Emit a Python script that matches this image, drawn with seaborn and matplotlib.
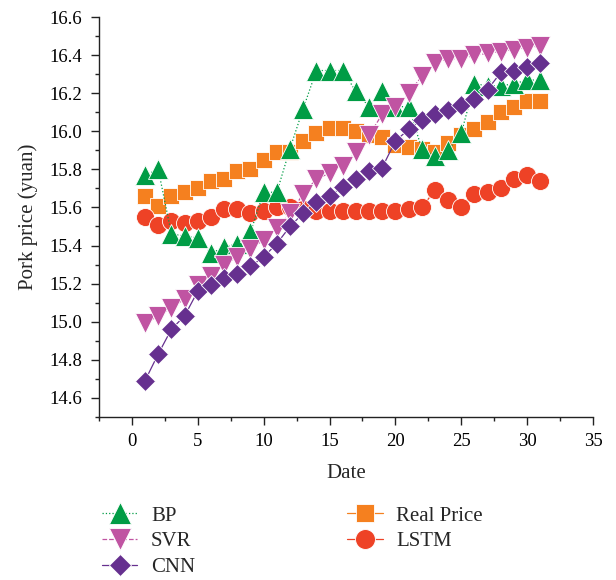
import matplotlib
matplotlib.use("Agg")
import matplotlib.pyplot as plt
from matplotlib.ticker import MultipleLocator, FormatStrFormatter
import pandas as pd
import seaborn as sns

days = list(range(1, 32))

real_price = [15.66, 15.61, 15.66, 15.68, 15.70, 15.74, 15.75, 15.79, 15.80, 15.85,
              15.89, 15.89, 15.95, 15.99, 16.02, 16.02, 16.00, 15.98, 15.97, 15.93,
              15.92, 15.91, 15.89, 15.94, 15.98, 16.01, 16.05, 16.10, 16.13, 16.16, 16.16]
lstm = [15.55, 15.51, 15.53, 15.52, 15.53, 15.55, 15.59, 15.59, 15.57, 15.58,
        15.60, 15.60, 15.59, 15.58, 15.58, 15.58, 15.58, 15.58, 15.58, 15.58,
        15.59, 15.60, 15.69, 15.64, 15.60, 15.67, 15.68, 15.70, 15.75, 15.77, 15.74]
bp = [15.77, 15.80, 15.46, 15.45, 15.44, 15.36, 15.39, 15.41, 15.47, 15.68,
      15.68, 15.91, 16.12, 16.32, 16.32, 16.32, 16.21, 16.13, 16.21, 16.13,
      16.13, 15.91, 15.87, 15.90, 15.99, 16.25, 16.24, 16.24, 16.25, 16.27, 16.27]
svr = [14.99, 15.03, 15.07, 15.12, 15.19, 15.24, 15.30, 15.34, 15.38, 15.43,
       15.49, 15.57, 15.67, 15.75, 15.78, 15.82, 15.89, 15.98, 16.09, 16.13,
       16.20, 16.29, 16.36, 16.38, 16.38, 16.40, 16.41, 16.42, 16.43, 16.44, 16.45]
cnn = [14.69, 14.83, 14.96, 15.03, 15.16, 15.19, 15.23, 15.25, 15.29, 15.34,
       15.41, 15.50, 15.57, 15.63, 15.66, 15.71, 15.75, 15.79, 15.81, 15.95,
       16.01, 16.06, 16.09, 16.11, 16.14, 16.17, 16.22, 16.31, 16.32, 16.34, 16.36]

df = pd.DataFrame({"Date": days, "Real Price": real_price, "LSTM": lstm,
                   "BP": bp, "SVR": svr, "CNN": cnn})

sns.set_theme(style="ticks")
plt.rcParams["font.family"] = ["Liberation Serif", "DejaVu Serif"]

fig = plt.figure(figsize=(6.16, 5.80), dpi=100)
ax = fig.add_axes([0.1607, 0.2816, 0.802, 0.6886])

styles = {
    "Real Price": dict(color="#F5801F", marker="s", linestyle="-", markersize=11.5),
    "LSTM": dict(color="#EE4226", marker="o", linestyle="-", markersize=13),
    "BP": dict(color="#009C45", marker="^", linestyle=":", markersize=14),
    "SVR": dict(color="#C054A2", marker="v", linestyle="--", markersize=14),
    "CNN": dict(color="#66308F", marker="D", linestyle="-", markersize=10.5),
}

# draw reference series first so the model predictions sit on top
for name in ["Real Price", "LSTM", "BP", "SVR", "CNN"]:
    st = styles[name]
    sns.lineplot(data=df, x="Date", y=name, ax=ax, label=name,
                 color=st["color"], marker=st["marker"], linestyle=st["linestyle"],
                 markersize=st["markersize"], linewidth=0.9,
                 markeredgecolor="white", markeredgewidth=0.6)

ax.set_xlim(-2.5, 35)
ax.set_ylim(14.5, 16.6)
ax.xaxis.set_major_locator(MultipleLocator(5))
ax.xaxis.set_minor_locator(MultipleLocator(2.5))
ax.yaxis.set_major_locator(MultipleLocator(0.2))
ax.yaxis.set_minor_locator(MultipleLocator(0.1))
ax.yaxis.set_major_formatter(FormatStrFormatter("%.1f"))
ax.tick_params(axis="both", which="major", direction="out", length=6, width=1,
               pad=6, labelsize=13.5, colors="#222222", labelcolor="black")
ax.tick_params(axis="both", which="minor", direction="out", length=3, width=1,
               colors="#222222")
for side in ["top", "right"]:
    ax.spines[side].set_visible(False)
for side in ["left", "bottom"]:
    ax.spines[side].set_linewidth(1.0)
    ax.spines[side].set_color("#222222")

ax.set_xlabel("Date", fontsize=15, labelpad=10)
ax.set_ylabel("Pork price (yuan)", fontsize=15, labelpad=8)

handles, labels = ax.get_legend_handles_labels()
ax.get_legend().remove()
order = ["BP", "SVR", "CNN", "Real Price", "LSTM"]
hmap = dict(zip(labels, handles))
fig.legend([hmap[k] for k in order], order, loc="upper left",
           bbox_to_anchor=(0.152, 0.142), ncol=2, frameon=False, fontsize=15,
           handlelength=1.7, handletextpad=0.65, columnspacing=7.3,
           labelspacing=0.3, markerscale=1.1, borderaxespad=0)

fig.savefig("out.png", dpi=100)
